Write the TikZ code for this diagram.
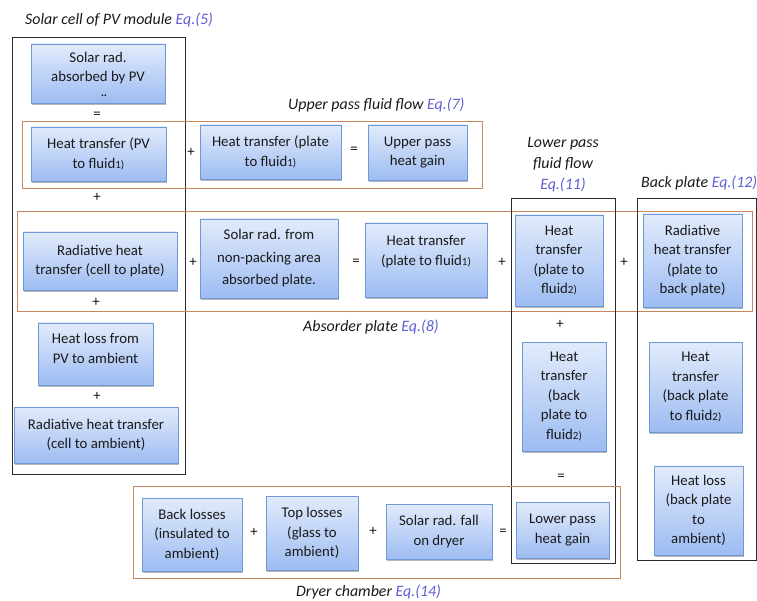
\documentclass[tikz,border=0pt]{standalone}
\usepackage{fontspec}
\setmainfont{Carlito}
\usetikzlibrary{shadows}
\definecolor{boxtop}{HTML}{E2EBFB}
\definecolor{boxbot}{HTML}{9DBCF2}
\definecolor{boxline}{HTML}{6F98D6}
\definecolor{frameor}{HTML}{C8865E}
\definecolor{frameblk}{HTML}{2A2A2A}
\definecolor{eqblue}{HTML}{5F5FD4}
\definecolor{txt}{HTML}{1A1A1A}
\newcommand\sm[1]{{\fontsize{11}{12}\selectfont #1}}
\newcommand\eqt[1]{{\color{eqblue}#1}}
\begin{document}
\begin{tikzpicture}[x=1pt,y=-1pt,
  bx/.style={draw=boxline, line width=0.9pt, top color=boxtop, bottom color=boxbot,
    align=center, inner sep=0pt, text=txt, font=\fontsize{14.8}{19.5}\selectfont,
    drop shadow={shadow xshift=1.3pt, shadow yshift=-1.8pt, opacity=0.4, fill=black!70}},
  op/.style={inner sep=0pt, text=txt, font=\fontsize{14.8}{16}\selectfont},
  ttl/.style={inner sep=0pt, text=txt, align=center, font=\fontsize{15.9}{21}\selectfont\itshape},
  blkframe/.style={draw=frameblk, line width=0.9pt},
  orframe/.style={draw=frameor, line width=0.9pt}]
\useasboundingbox (0,0) rectangle (757,601);

% frames
\draw[blkframe] (12,37) rectangle (185,474);
\draw[orframe] (22,121) rectangle (482,188);
\draw[orframe] (17,211) rectangle (752,311);
\draw[blkframe] (511,198) rectangle (615,563);
\draw[blkframe] (637,198) rectangle (756,560);
\draw[orframe] (133,486) rectangle (620,578);

% titles
\node[ttl, anchor=west] (tpv) at (25,20) {Solar cell of PV module \eqt{Eq.(5)}};
\node[ttl, anchor=west] (tup) at (288,105) {Upper pass fluid flow \eqt{Eq.(7)}};
\node[ttl] (tlow) at (563,165) {Lower pass\\fluid flow\\\eqt{Eq.(11)}};
\node[ttl, anchor=west] (tbp) at (641,183) {Back plate \eqt{Eq.(12)}};
\node[ttl, anchor=west] (tab) at (303,327) {Absorder plate \eqt{Eq.(8)}};
\node[ttl, anchor=west] (tdr) at (296,592) {Dryer chamber \eqt{Eq.(14)}};

% boxes
\node[bx, minimum width=134, minimum height=59] (sr) at (98,73.5) {Solar rad.\\absorbed by PV\\[-6pt]\mbox{}};
\node[op, font=\fontsize{16}{16}\selectfont] (dd) at (104,100) {¨};
\node[bx, minimum width=135, minimum height=54] (htpv) at (98.5,154) {Heat transfer (PV\\to fluid\sm{1)}};
\node[bx, minimum width=141, minimum height=54] (htpl) at (270.5,152) {Heat transfer (plate\\to fluid\sm{1)}};
\node[bx, minimum width=99, minimum height=55] (upg) at (417.5,152.5) {Upper pass\\heat gain};
\node[bx, minimum width=154, minimum height=58] (rcp) at (100,261) {Radiative heat\\transfer (cell to plate)};
\node[bx, minimum width=138, minimum height=79] (srn) at (269,258.5) {Solar rad. from\\[3pt]non-packing area\\[3pt]absorbed plate.};
\node[bx, minimum width=122, minimum height=74] (htpf1) at (426,260) {Heat transfer\\(plate to fluid\sm{1)}\\\mbox{}};
\node[bx, minimum width=88, minimum height=91] (htpf2) at (559,260.5) {Heat\\transfer\\(plate to\\fluid\sm{2)}};
\node[bx, minimum width=99, minimum height=93] (rbp) at (692.5,260.5) {Radiative\\heat transfer\\(plate to\\back plate)};
\node[bx, minimum width=115, minimum height=62] (hlpv) at (95.5,354) {Heat loss from\\PV to ambient\\[-8pt]\mbox{}};
\node[bx, minimum width=164, minimum height=56] (rca) at (96,435) {Radiative heat transfer\\(cell to ambient)};
\node[bx, minimum width=84, minimum height=109] (htbf2) at (564,396.5) {Heat\\transfer\\(back\\plate to\\fluid\sm{2)}};
\node[bx, minimum width=93, minimum height=90] (htbr) at (695.5,387) {Heat\\transfer\\(back plate\\to fluid\sm{2)}};
\node[bx, minimum width=89, minimum height=89] (hlbp) at (698.5,510.5) {Heat loss\\(back plate\\to\\ambient)};
\node[bx, minimum width=100, minimum height=73] (bl) at (192,534.5) {Back losses\\(insulated to\\ambient)};
\node[bx, minimum width=92, minimum height=74] (tl) at (312,533) {Top losses\\(glass to\\ambient)};
\node[bx, minimum width=106, minimum height=55] (srf) at (439,531.5) {Solar rad. fall\\on dryer};
\node[bx, minimum width=93, minimum height=56] (lpg) at (562.5,530) {Lower pass\\heat gain};

% operators
\node[op] (o1) at (97,115) {=};
\node[op] (o2) at (191,152) {+};
\node[op] (o3) at (354,150) {=};
\node[op] (o4) at (97,197) {+};
\node[op] (o5) at (193,262) {+};
\node[op] (o6) at (356,262) {=};
\node[op] (o7) at (502,262) {+};
\node[op] (o8) at (624,262) {+};
\node[op] (o9) at (96,302) {+};
\node[op] (o10) at (97,396) {+};
\node[op] (o11) at (560,324) {+};
\node[op] (o12) at (561,477) {=};
\node[op] (o13) at (254,532) {+};
\node[op] (o14) at (373,531) {+};
\node[op] (o15) at (503,532) {=};
\end{tikzpicture}
\end{document}
